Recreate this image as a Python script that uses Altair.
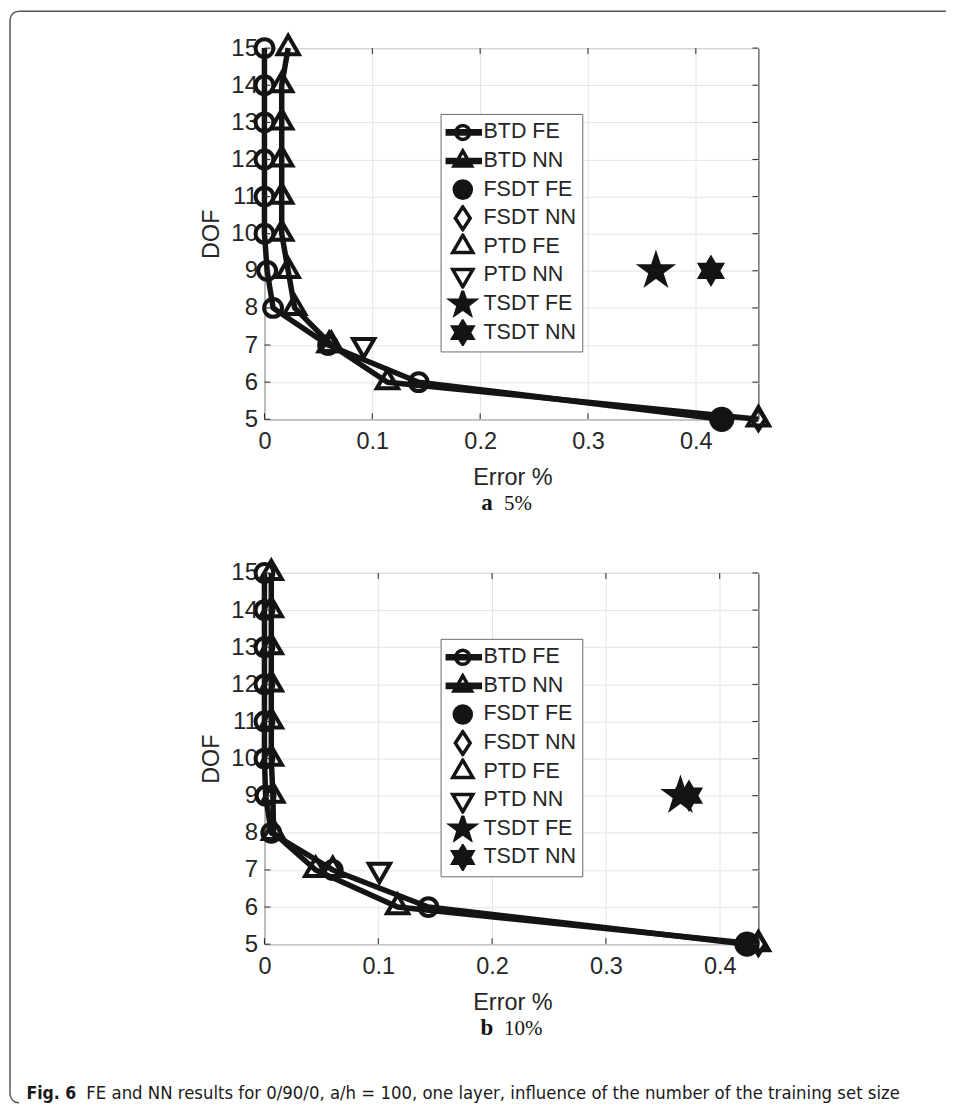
import math
import altair as alt
import pandas as pd

# ---------------- data ----------------
DOF = [15, 14, 13, 12, 11, 10, 9, 8, 7, 6, 5]
SERIES = ["BTD FE", "BTD NN", "FSDT FE", "FSDT NN", "PTD FE", "PTD NN", "TSDT FE", "TSDT NN"]
SINGLE_SERIES = ["FSDT FE", "FSDT NN", "PTD FE", "PTD NN", "TSDT FE", "TSDT NN"]
SINGLE_DOF = [5, 5, 7, 7, 9, 9]

# panel a : 5 %
A_BTD_FE = [0.0, 0.0, 0.0, 0.0, 0.0, 0.0, 0.0025, 0.008, 0.059, 0.143, 0.424]
A_BTD_NN = [0.022, 0.016, 0.016, 0.016, 0.016, 0.016, 0.022, 0.028, 0.062, 0.114, 0.458]
A_SINGLE = [0.424, 0.458, 0.060, 0.092, 0.363, 0.414]
A_XMAX = 0.458

# panel b : 10 %
B_BTD_FE = [0.0, 0.0, 0.0, 0.0, 0.0, 0.0, 0.001, 0.006, 0.060, 0.144, 0.424]
B_BTD_NN = [0.006, 0.006, 0.006, 0.006, 0.006, 0.006, 0.0074, 0.008, 0.045, 0.117, 0.434]
B_SINGLE = [0.424, 0.434, 0.060, 0.101, 0.3655, 0.373]
B_XMAX = 0.434

X_TICKS = [0, 0.1, 0.2, 0.3, 0.4]
Y_TICKS = [5, 6, 7, 8, 9, 10, 11, 12, 13, 14, 15]

CAPTION_BOLD = "Fig. 6"
CAPTION_TEXT = "FE and NN results for 0/90/0, a/h = 100, one layer, influence of the number of the training set size"

# ---------------- styles ----------------
W, H = 495, 372
FONT = "Liberation Sans"
INK = "#262626"
MARK = "#141414"


def poly(pts):
    return "M" + " L".join(f"{x:.3f},{y:.3f}" for x, y in pts) + " Z"


def circle(r):
    return f"M{r},0 A{r},{r} 0 1,1 {-r},0 A{r},{r} 0 1,1 {r},0 Z"


def tri_up(w):
    return poly([(0, -1.155 * w), (w, 0.577 * w), (-w, 0.577 * w)])


def tri_down(w):
    return poly([(0, 1.155 * w), (w, -0.577 * w), (-w, -0.577 * w)])


def diamond(w, h):
    return poly([(0, -h), (w, 0), (0, h), (-w, 0)])


def star(n, ro, ri):
    pts = []
    for k in range(2 * n):
        ang = -math.pi / 2 + k * math.pi / n
        r = ro if k % 2 == 0 else ri
        pts.append((r * math.cos(ang), r * math.sin(ang)))
    return poly(pts)


def bar(half, t):
    return poly([(-half, -t), (half, -t), (half, t), (-half, t)])


PLOT_SHAPES = [circle(0.8), tri_up(0.95), circle(0.95), diamond(0.6, 0.95),
               tri_up(0.95), tri_down(0.95), star(5, 1.33, 0.51), star(6, 1.1, 0.64)]
LEGEND_SHAPES = [circle(0.8) + " " + bar(2.0, 0.18), tri_up(1.0) + " " + bar(2.0, 0.18),
                 circle(0.98), diamond(0.85, 1.3), tri_up(1.15), tri_down(1.15),
                 star(5, 1.4, 0.55), star(6, 1.3, 0.75)]
FILLS = ["transparent", "transparent", MARK, "transparent", "transparent", "transparent", MARK, MARK]
STROKES = [MARK] * 8


def panel(btd_fe, btd_nn, single, xmax, letter, pct, first):
    line_df = pd.DataFrame({
        "series": ["BTD FE"] * len(DOF) + ["BTD NN"] * len(DOF),
        "err": btd_fe + btd_nn,
        "dof": DOF + DOF,
        "order": list(range(len(DOF))) * 2,
    })
    pts_df = pd.concat([
        line_df[["series", "err", "dof"]],
        pd.DataFrame({"series": SINGLE_SERIES, "err": single, "dof": SINGLE_DOF}),
    ], ignore_index=True)

    xs = alt.Scale(domain=[0, xmax], nice=False, zero=False)
    ys = alt.Scale(domain=[5, 15], nice=False, zero=False)
    x_axis = alt.Axis(
        values=X_TICKS, format="~g", grid=True, gridColor="#e4e4e4", ticks=False, domain=False,
        labelFont=FONT, labelFontSize=23.5, labelColor=INK, labelPadding=10, labelFlush=False,
        title="Error %", titleFont=FONT, titleFontSize=23.5, titleFontWeight="normal", titleColor=INK,
        titleX=W / 2 + 1, titleY=58, titleBaseline="middle")
    y_axis = alt.Axis(
        values=Y_TICKS, format="d", grid=True, gridColor="#e4e4e4", ticks=False, domain=False,
        labelFont=FONT, labelFontSize=24, labelColor=INK, labelPadding=7, labelFlush=False,
        title="DOF", titleFont=FONT, titleFontSize=23.5, titleFontWeight="normal", titleColor=INK,
        titleAngle=270, titleX=-53.5, titleY=H / 2, titleBaseline="middle")
    x_enc = alt.X("err:Q", scale=xs, axis=x_axis)
    y_enc = alt.Y("dof:Q", scale=ys, axis=y_axis)

    xt = pd.DataFrame({"t": X_TICKS})
    yt = pd.DataFrame({"t": Y_TICKS})
    xa = alt.X("t:Q", scale=xs, axis=x_axis)
    ya = alt.Y("t:Q", scale=ys, axis=y_axis)

    lines = alt.Chart(line_df).mark_line(color=MARK, strokeWidth=5.5, strokeJoin="round").encode(
        x=x_enc, y=y_enc, detail="series:N", order="order:Q")

    points = alt.Chart(pts_df).mark_point(filled=True, stroke=MARK, strokeWidth=4, opacity=1, size=500).encode(
        x=x_enc, y=y_enc,
        shape=alt.Shape("series:N", scale=alt.Scale(domain=SERIES, range=PLOT_SHAPES), legend=None),
        fill=alt.Fill("series:N", scale=alt.Scale(domain=SERIES, range=FILLS), legend=None))

    leg = alt.Legend(orient="none", legendX=176.5, legendY=66, title=None, padding=5,
                     clipHeight=27, rowPadding=1.66, gridAlign="all",
                     symbolSize=306, symbolStrokeColor=MARK, symbolStrokeWidth=3.5,
                     symbolOffset=6.5, labelOffset=10, symbolOpacity=1,
                     labelFont=FONT, labelFontSize=21.5, labelColor=INK,
                     strokeColor="#6b6b6b", fillColor="white")
    legend_layer = alt.Chart(pts_df).transform_filter("false").mark_point(
        filled=True, strokeWidth=3.5, opacity=1).encode(
        x=x_enc, y=y_enc,
        shape=alt.Shape("series:N", scale=alt.Scale(domain=SERIES, range=LEGEND_SHAPES), legend=leg),
        fill=alt.Fill("series:N", scale=alt.Scale(domain=SERIES, range=FILLS), legend=leg),
        stroke=alt.Stroke("series:N", scale=alt.Scale(domain=SERIES, range=STROKES), legend=leg))

    ticks = [
        alt.Chart(xt).mark_rule(color=INK, strokeWidth=1).encode(x=xa, y=alt.value(H), y2=alt.value(H - 6)),
        alt.Chart(xt).mark_rule(color=INK, strokeWidth=1).encode(x=xa, y=alt.value(0), y2=alt.value(6)),
        alt.Chart(yt).mark_rule(color=INK, strokeWidth=1).encode(y=ya, x=alt.value(0), x2=alt.value(6)),
        alt.Chart(yt).mark_rule(color=INK, strokeWidth=1).encode(y=ya, x=alt.value(W), x2=alt.value(W - 6)),
    ]

    one = pd.DataFrame({"k": [0]})
    sub = [
        alt.Chart(one).mark_text(text=letter, font="Liberation Serif", fontWeight="bold", fontSize=23,
                                 align="center", baseline="alphabetic", color=MARK).encode(
            x=alt.value(223), y=alt.value(463)),
        alt.Chart(one).mark_text(text=pct, font="Liberation Serif", fontSize=21,
                                 align="left", baseline="alphabetic", color=MARK).encode(
            x=alt.value(240), y=alt.value(463)),
    ]

    layers = [lines, points, legend_layer] + ticks + sub

    if first:
        fc = "#555555"
        layers += [
            alt.Chart(one).mark_rule(color=fc, strokeWidth=1.5).encode(
                x=alt.value(-255), y=alt.value(-28), y2=alt.value(1048)),
            alt.Chart(one).mark_rule(color=fc, strokeWidth=1.5).encode(
                y=alt.value(-37), x=alt.value(-246), x2=alt.value(683)),
            alt.Chart(one).mark_arc(theta=4.7124, theta2=6.2832, radius=9.75, radius2=8.25, color=fc).encode(
                x=alt.value(-246), y=alt.value(-28)),
            alt.Chart(one).mark_arc(theta=3.1416, theta2=4.7124, radius=9.75, radius2=8.25, color=fc).encode(
                x=alt.value(-246), y=alt.value(1048)),
        ]
    else:
        cap_font = "Liberation Sans Narrow, DejaVu Sans Condensed, sans-serif"
        layers += [
            alt.Chart(one).mark_text(text=CAPTION_BOLD, font=cap_font, fontWeight="bold", fontSize=17.5,
                                     align="left", baseline="alphabetic", color="#1a1a1a").encode(
                x=alt.value(-238.5), y=alt.value(527)),
            alt.Chart(one).mark_text(text=CAPTION_TEXT, font=cap_font, fontSize=18.4,
                                     align="left", baseline="alphabetic", color="#1a1a1a").encode(
                x=alt.value(-178.5), y=alt.value(527)),
        ]

    return alt.layer(*layers).resolve_scale(
        shape="independent", fill="independent", stroke="independent").properties(width=W, height=H)


chart_a = panel(A_BTD_FE, A_BTD_NN, A_SINGLE, A_XMAX, "a", "5%", True)
chart_b = panel(B_BTD_FE, B_BTD_NN, B_SINGLE, B_XMAX, "b", "10%", False)

chart = alt.vconcat(chart_a, chart_b, spacing=154, bounds="flush").properties(
    padding=0
).configure_view(stroke=INK, strokeWidth=1)

chart.save("out.html", embed_options={"renderer": "svg", "actions": False})
